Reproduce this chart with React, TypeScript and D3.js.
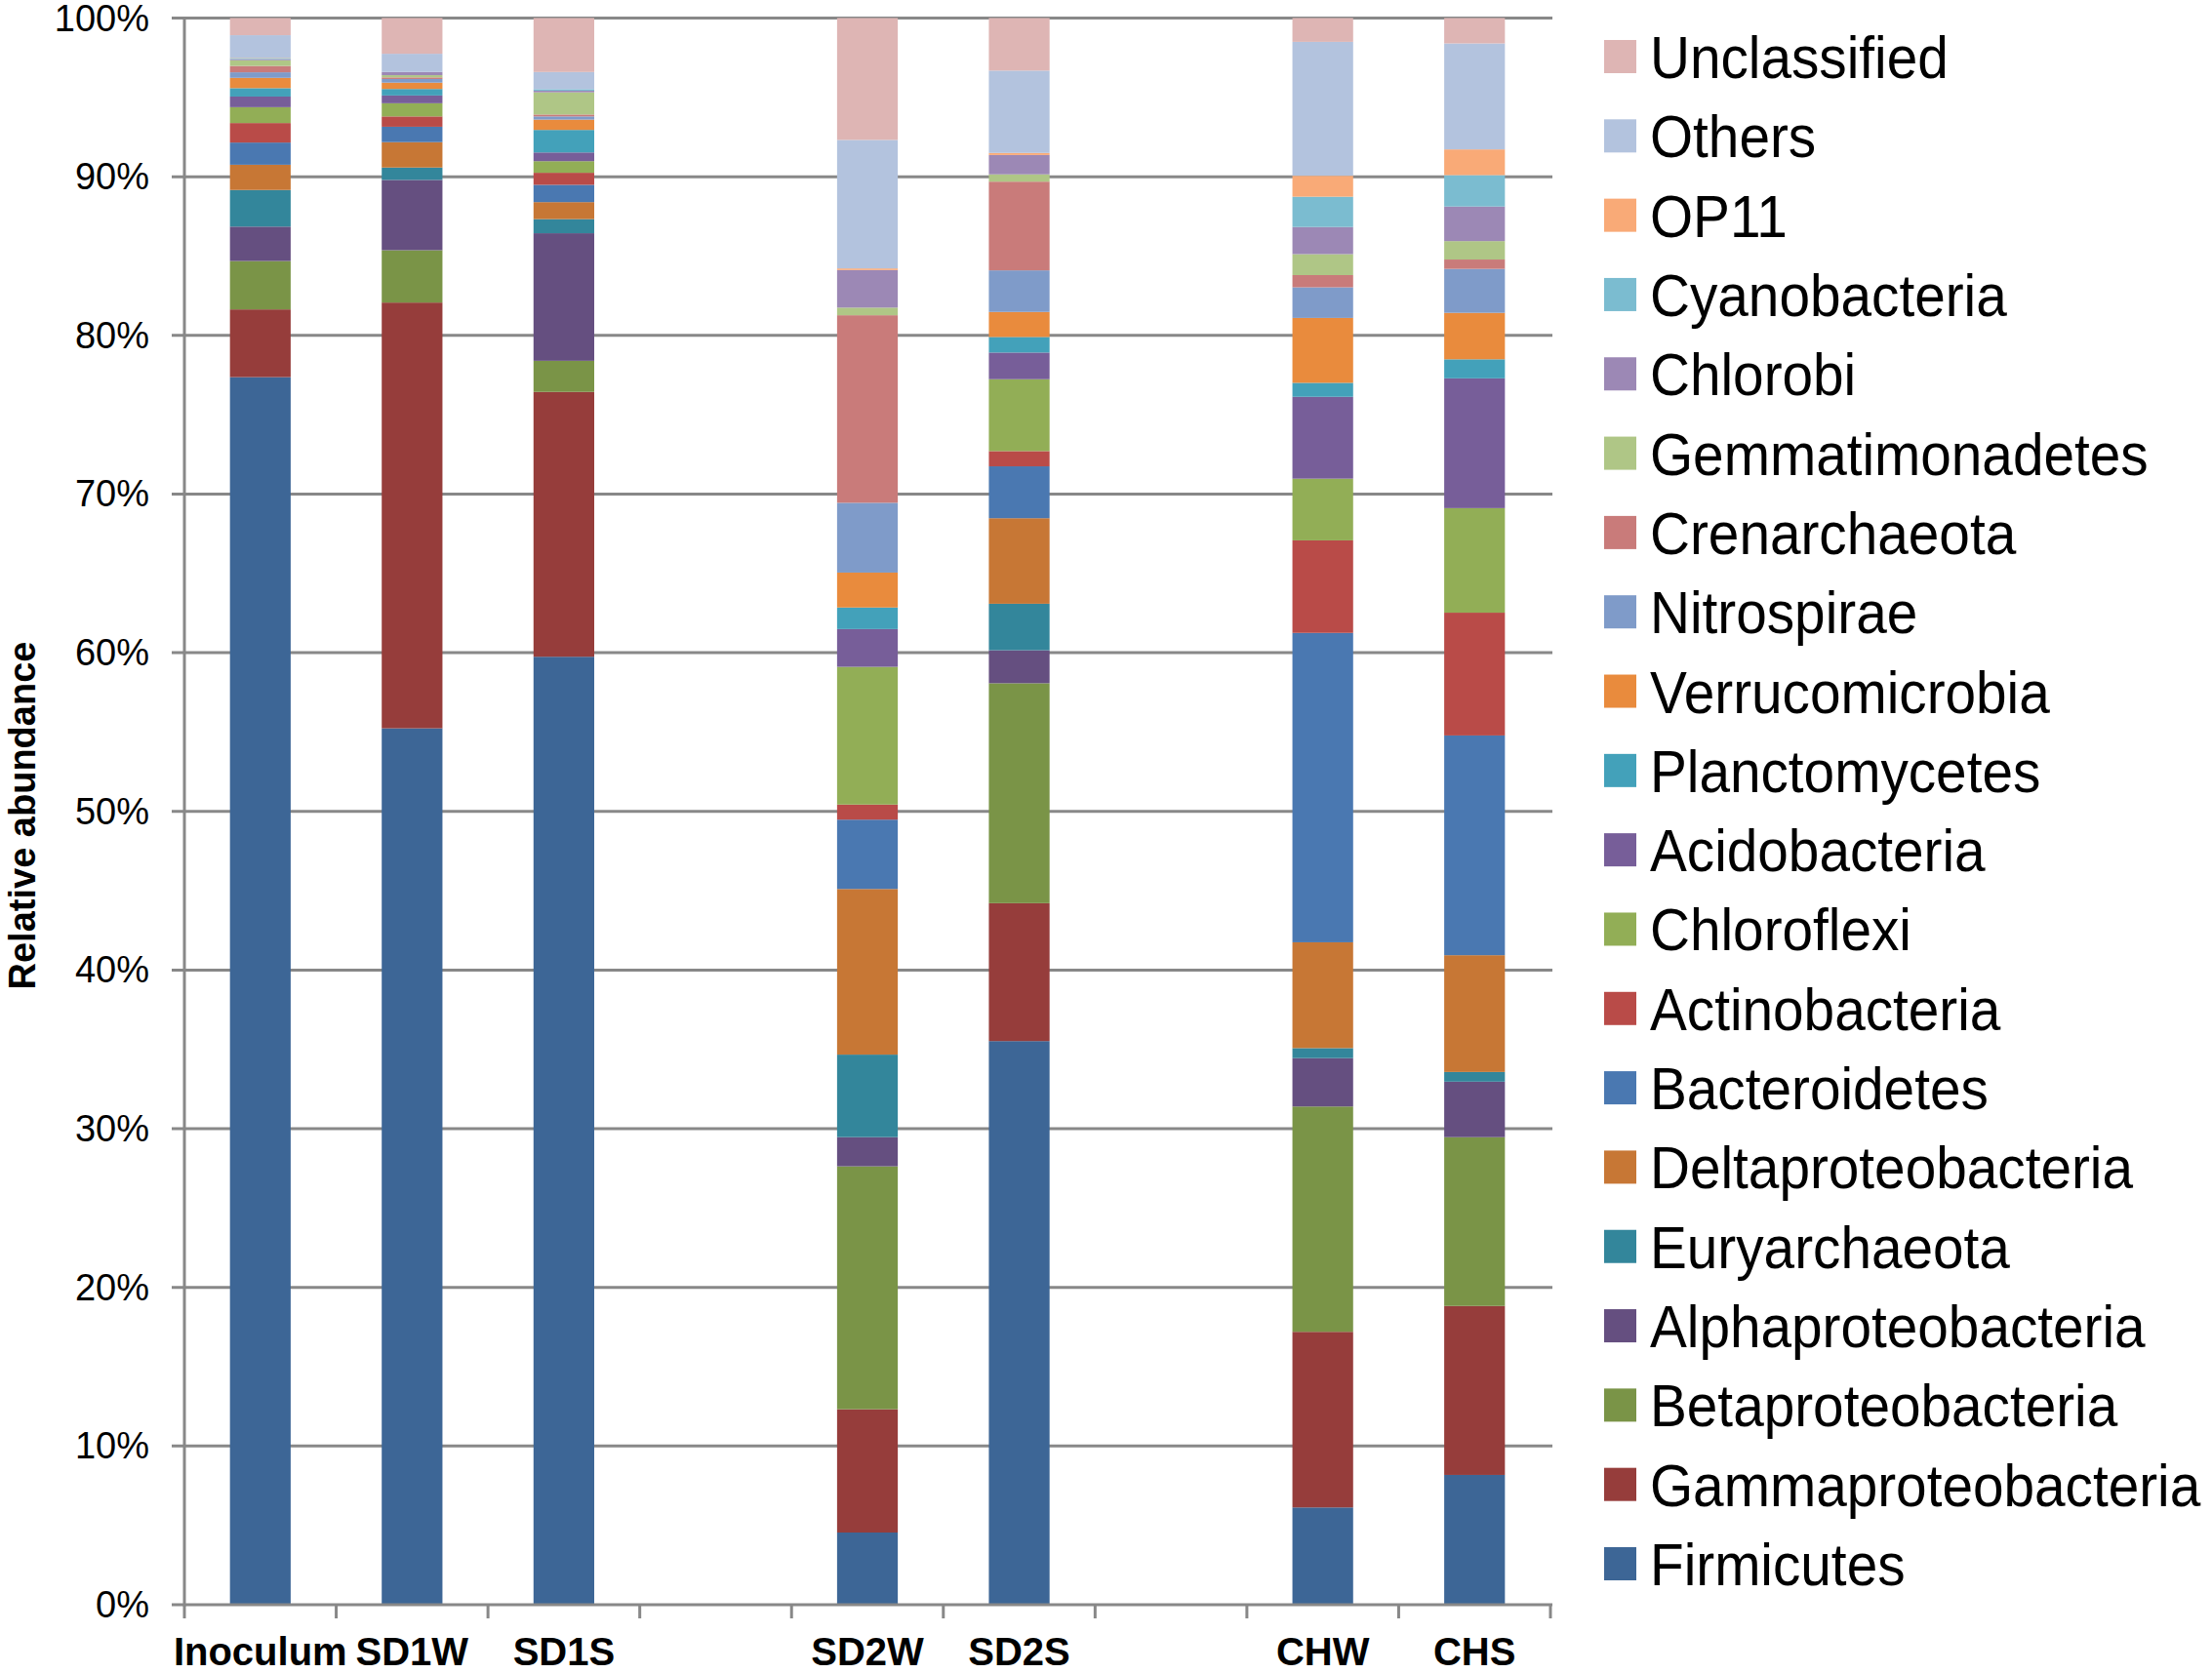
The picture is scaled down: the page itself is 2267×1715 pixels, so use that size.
import { useEffect, useRef } from "react"
import * as d3 from "d3"

// slots on the x axis; the two gaps are empty columns in the original figure
const SLOTS = ["Inoculum", "SD1W", "SD1S", "gap1", "SD2W", "SD2S", "gap2", "CHW", "CHS"]
const SAMPLES = ["Inoculum", "SD1W", "SD1S", "SD2W", "SD2S", "CHW", "CHS"]

// stacking order, bottom to top
const TAXA = [
  "Firmicutes",
  "Gammaproteobacteria",
  "Betaproteobacteria",
  "Alphaproteobacteria",
  "Euryarchaeota",
  "Deltaproteobacteria",
  "Bacteroidetes",
  "Actinobacteria",
  "Chloroflexi",
  "Acidobacteria",
  "Planctomycetes",
  "Verrucomicrobia",
  "Nitrospirae",
  "Crenarchaeota",
  "Gemmatimonadetes",
  "Chlorobi",
  "Cyanobacteria",
  "OP11",
  "Others",
  "Unclassified",
]

// relative abundance (%) per sample, order = SAMPLES
const firmicutes = [77.4, 55.23, 59.74, 4.55, 35.52, 6.13, 8.18]
const gammaproteobacteria = [4.27, 26.83, 16.69, 7.77, 8.69, 11.07, 10.65]
const betaproteobacteria = [3.05, 3.3, 1.96, 15.31, 13.86, 14.2, 10.64]
const alphaproteobacteria = [2.17, 4.43, 8.04, 1.84, 2.08, 3.05, 3.5]
const euryarchaeota = [2.31, 0.78, 0.89, 5.2, 2.93, 0.63, 0.61]
const deltaproteobacteria = [1.59, 1.6, 1.07, 10.44, 5.39, 6.67, 7.36]
const bacteroidetes = [1.4, 0.97, 1.09, 4.37, 3.27, 19.5, 13.85]
const actinobacteria = [1.23, 0.65, 0.76, 0.95, 0.96, 5.83, 7.74]
const chloroflexi = [1.0, 0.83, 0.73, 8.68, 4.53, 3.89, 6.59]
const acidobacteria = [0.67, 0.49, 0.55, 2.38, 1.68, 5.16, 8.18]
const planctomycetes = [0.53, 0.41, 1.42, 1.36, 0.98, 0.88, 1.2]
const verrucomicrobia = [0.65, 0.4, 0.65, 2.2, 1.58, 4.09, 2.93]
const nitrospirae = [0.35, 0.23, 0.2, 4.4, 2.62, 1.93, 2.77]
const crenarchaeota = [0.4, 0.1, 0.12, 11.82, 5.59, 0.77, 0.59]
const gemmatimonadetes = [0.36, 0.14, 1.4, 0.48, 0.46, 1.32, 1.16]
const chlorobi = [0.07, 0.2, 0.1, 2.37, 1.22, 1.71, 2.18]
const cyanobacteria = [0.07, 0.0, 0.1, 0.0, 0.0, 1.91, 1.98]
const op11 = [0.02, 0.0, 0.0, 0.1, 0.13, 1.32, 1.62]
const others = [1.42, 1.15, 1.08, 8.1, 5.19, 8.44, 6.68]
const unclassified = [1.08, 2.25, 3.4, 7.68, 3.31, 1.5, 1.6]

const SERIES = [
  firmicutes,
  gammaproteobacteria,
  betaproteobacteria,
  alphaproteobacteria,
  euryarchaeota,
  deltaproteobacteria,
  bacteroidetes,
  actinobacteria,
  chloroflexi,
  acidobacteria,
  planctomycetes,
  verrucomicrobia,
  nitrospirae,
  crenarchaeota,
  gemmatimonadetes,
  chlorobi,
  cyanobacteria,
  op11,
  others,
  unclassified,
]

const COLORS = [
  "#3d6696", // Firmicutes
  "#963d3b", // Gamma
  "#7a9447", // Beta
  "#654f80", // Alpha
  "#33869b", // Eury
  "#c77735", // Delta
  "#4a78b1", // Bacteroidetes
  "#b94b48", // Actino
  "#92ae56", // Chloroflexi
  "#775e99", // Acido
  "#43a1ba", // Plancto
  "#e98b3d", // Verruco
  "#7f9bc9", // Nitrospirae
  "#c97b7a", // Crenarch
  "#afc686", // Gemmati
  "#9c88b5", // Chlorobi
  "#7bbcd0", // Cyano
  "#f9aa77", // OP11
  "#b3c3de", // Others
  "#deb5b4", // Unclassified
]

const Y_TICKS = [0, 0.1, 0.2, 0.3, 0.4, 0.5, 0.6, 0.7, 0.8, 0.9, 1]

const FONT = "'Liberation Sans', Arial, Helvetica, sans-serif"
const GRID = "#888888"

export default function App() {
  const ref = useRef<SVGSVGElement>(null)

  useEffect(() => {
    if (!ref.current) return
    const el = ref.current
    d3.select(el).selectAll("*").remove()

    const W = 2267
    const H = 1715
    const X0 = 189
    const X1 = 1589
    const Y0 = 18.5
    const Y1 = 1645

    const svg = d3.select(el).attr("viewBox", `0 0 ${W} ${H}`).attr("width", W).attr("height", H)

    svg.append("rect").attr("width", W).attr("height", H).attr("fill", "#fff")

    const x = d3.scaleBand<string>().domain(SLOTS).range([X0, X1]).paddingInner(0.6).paddingOuter(0.3)
    const y = d3.scaleLinear().domain([0, 1]).range([Y1, Y0])

    // rows per sample
    const rows = SAMPLES.map((s, i) => {
      const r: Record<string, number | string> = { sample: s }
      TAXA.forEach((t, k) => (r[t] = SERIES[k][i]))
      return r
    })
    const stack = d3
      .stack<Record<string, number | string>>()
      .keys(TAXA)
      .value((d, key) => d[key] as number)
      .offset(d3.stackOffsetExpand)
    const layers = stack(rows)

    // gridlines
    svg
      .append("g")
      .selectAll("line")
      .data(Y_TICKS.filter((t) => t > 0))
      .join("line")
      .attr("x1", X0 - 13)
      .attr("x2", X1 + 2)
      .attr("y1", (t) => y(t))
      .attr("y2", (t) => y(t))
      .attr("stroke", GRID)
      .attr("stroke-width", 3)

    // bars
    svg
      .append("g")
      .selectAll("g")
      .data(layers)
      .join("g")
      .attr("fill", (_, i) => COLORS[i])
      .selectAll("rect")
      .data((d) => d)
      .join("rect")
      .attr("x", (d) => x(d.data.sample as string)!)
      .attr("width", x.bandwidth())
      .attr("y", (d) => y(d[1]))
      .attr("height", (d) => Math.max(0, y(d[0]) - y(d[1])))

    // axes
    svg
      .append("line")
      .attr("x1", X0)
      .attr("x2", X0)
      .attr("y1", Y0 - 1.5)
      .attr("y2", Y1 + 1.5)
      .attr("stroke", GRID)
      .attr("stroke-width", 3)
    svg
      .append("line")
      .attr("x1", X0 - 13)
      .attr("x2", X1 + 2)
      .attr("y1", Y1)
      .attr("y2", Y1)
      .attr("stroke", GRID)
      .attr("stroke-width", 3)

    // x ticks at slot boundaries
    const step = x.step()
    svg
      .append("g")
      .selectAll("line")
      .data(d3.range(SLOTS.length + 1))
      .join("line")
      .attr("x1", (i) => X0 + i * step)
      .attr("x2", (i) => X0 + i * step)
      .attr("y1", Y1)
      .attr("y2", Y1 + 14)
      .attr("stroke", GRID)
      .attr("stroke-width", 3)

    // y tick labels
    svg
      .append("g")
      .selectAll("text")
      .data(Y_TICKS)
      .join("text")
      .attr("x", 153)
      .attr("y", (t) => y(t) + 13)
      .attr("text-anchor", "end")
      .attr("font-family", FONT)
      .attr("font-size", 38)
      .attr("fill", "#000")
      .text((t) => d3.format(".0%")(t))

    // x labels
    svg
      .append("g")
      .selectAll("text")
      .data(SAMPLES)
      .join("text")
      .attr("x", (s) => x(s)! + x.bandwidth() / 2)
      .attr("y", 1707)
      .attr("text-anchor", "middle")
      .attr("font-family", FONT)
      .attr("font-weight", 700)
      .attr("font-size", 40)
      .attr("fill", "#000")
      .text((s) => s)

    // y title
    svg
      .append("text")
      .attr("transform", `translate(36, 836) rotate(-90)`)
      .attr("text-anchor", "middle")
      .attr("font-family", FONT)
      .attr("font-weight", 700)
      .attr("font-size", 38)
      .attr("fill", "#000")
      .text("Relative abundance")

    // legend, top entry = last series
    const legendItems = TAXA.map((t, i) => ({ name: t, color: COLORS[i] })).reverse()
    const ly = d3
      .scalePoint<string>()
      .domain(legendItems.map((d) => d.name))
      .range([58, 1603])

    const legend = svg.append("g")
    const item = legend
      .selectAll("g")
      .data(legendItems)
      .join("g")
      .attr("transform", (d) => `translate(1644, ${ly(d.name)})`)
    item
      .append("rect")
      .attr("x", 0)
      .attr("y", -17)
      .attr("width", 33)
      .attr("height", 34)
      .attr("fill", (d) => d.color)
    item
      .append("text")
      .attr("transform", "translate(47, 22) scale(0.915, 1)")
      .attr("font-family", FONT)
      .attr("font-size", 62)
      .attr("fill", "#000")
      .text((d) => d.name)
  }, [])

  return (
    <svg
      ref={ref}
      style={{ position: "absolute", left: 0, top: 0, display: "block" }}
    />
  )
}
